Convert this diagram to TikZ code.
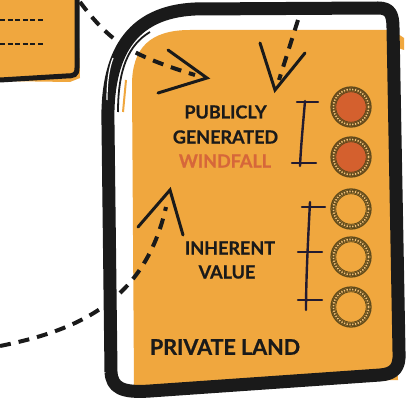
\documentclass[tikz,border=0pt]{standalone}
\usepackage{fontspec}
\setmainfont{Lato}[BoldFeatures={FakeBold=0.8}]
\definecolor{org}{HTML}{F0A73E}
\definecolor{wind}{HTML}{D6673A}
\definecolor{coinfill}{HTML}{D4602E}
\definecolor{ring}{HTML}{5E4A1C}
\definecolor{ink}{HTML}{1A1A1A}
\definecolor{brk}{HTML}{231B30}
\begin{document}
\begin{tikzpicture}[x=1pt,y=-1pt,
 lbl/.style={font=\bfseries\fontsize{18}{18}\selectfont, inner sep=0pt, text height=13pt, text depth=0pt, text=ink},
 big/.style={font=\bfseries\fontsize{21.5}{21.5}\selectfont, inner sep=0pt, text height=15.5pt, text depth=0pt, text=ink},
 dsh/.style={line width=4pt, dash pattern=on 11pt off 8pt, ink},
 chev/.style={line width=3pt, ink, line cap=round, line join=miter},
 brkt/.style={line width=2.4pt, brk, line cap=round},
 frame/.style={line width=13pt, ink, line join=round},
 coin/.style={circle, draw=ring, line width=1.3pt, minimum size=40pt, inner sep=0pt}]
\useasboundingbox (0,0) rectangle (406,406);
\fill[white] (0,0) rectangle (406,406);

% top-left box
\fill[org] (0,-1) -- (78,-1) -- (80,78) -- (70,82) -- (0,81) -- cycle;
\draw[line width=5pt, ink] (77,-3) -- (77,68) .. controls (77,75) and (74,76) .. (66,76) -- (0,80);
\draw[line width=1.6pt, dash pattern=on 5pt off 2.6pt, ink] (0,20) -- (43,20);
\draw[line width=1.6pt, dash pattern=on 5pt off 2.6pt, ink] (0,44) -- (43,44);

% orange land fill
\fill[org] (134,386) -- (132,85) .. controls (132,48) and (150,30) .. (190,30) -- (394,30) -- (398,380) -- cycle;
\draw[org, line width=2pt] (126,80) -- (123,112);
\fill[org] (398,34) -- (404,38) -- (404,50) -- (398,48) -- cycle;

% frame
\draw[frame] (111,372) -- (108,125) .. controls (106,55) and (130,12) .. (195,9) -- (378,8) .. controls (390,8) and (393,14) .. (393,28) -- (399,352) .. controls (400,368) and (394,374) .. (380,375) -- (150,391) .. controls (122,393) and (112,388) .. (111,372);
\draw[line width=1.8pt, ink] (118,112) .. controls (118,70) and (128,45) .. (150,32);
\draw[white, line width=1.2pt] (107,100) .. controls (107,82) and (109,68) .. (113,58);

% texts
\node[lbl] (p1) at (225.5,112) {PUBLICLY};
\node[lbl] (p2) at (225.5,137) {GENERATED};
\node[lbl, text=wind] (p3) at (225,161) {WINDFALL};
\node[lbl] (i1) at (230,248) {INHERENT};
\node[lbl] (i2) at (227,272) {VALUE};
\node[big] (land) at (225,347) {PRIVATE LAND};

% coins
\node[coin, fill=coinfill] (c1) at (351,107) {};
\node[coin, fill=coinfill] (c2) at (351,157) {};
\node[coin] (c3) at (351,209) {};
\node[coin] (c4) at (351,257) {};
\node[coin] (c5) at (351,307) {};
\foreach \c in {c1,c2,c3,c4,c5}{
  \draw[ring, line width=3.2pt] (\c.center) circle (17.6pt);
  \draw[org!70!white, line width=1.6pt, dash pattern=on 1.3pt off 1.5pt] (\c.center) circle (17.6pt);
  \draw[ring, line width=0.9pt] (\c.center) circle (15.3pt);
}

% brackets
\draw[brkt] (305,101) .. controls (303,125) and (301,145) .. (300,166);
\draw[brkt] (297,102) -- (318,102);
\draw[brkt] (292,163) -- (316,163);
\draw[brkt] (310,202) .. controls (308,240) and (306,280) .. (306,310);
\draw[brkt] (302,207) -- (325,207);
\draw[brkt] (298,252) -- (322,252);
\draw[brkt] (298,300) -- (322,300);

% arrows
\coordinate (s1) at (80,2);
\coordinate (e1) at (195,75);
\coordinate (t1) at (207,78);
\draw[dsh] (s1) .. controls (110,42) and (130,55) .. (e1);
\draw[chev] (168,50) -- (t1) -- (158,93);

\coordinate (s2) at (298,20);
\coordinate (e2) at (279,80);
\coordinate (t2) at (275,90);
\draw[dsh] (s2) -- (e2);
\draw[chev] (260,43) -- (t2) -- (305,53);

\coordinate (s3) at (0,346);
\coordinate (e3) at (166,207);
\coordinate (t3) at (170,190);
\draw[dsh] (s3) .. controls (80,330) and (145,300) .. (e3);
\draw[chev] (138,227) -- (t3) -- (183,235);
\end{tikzpicture}
\end{document}
